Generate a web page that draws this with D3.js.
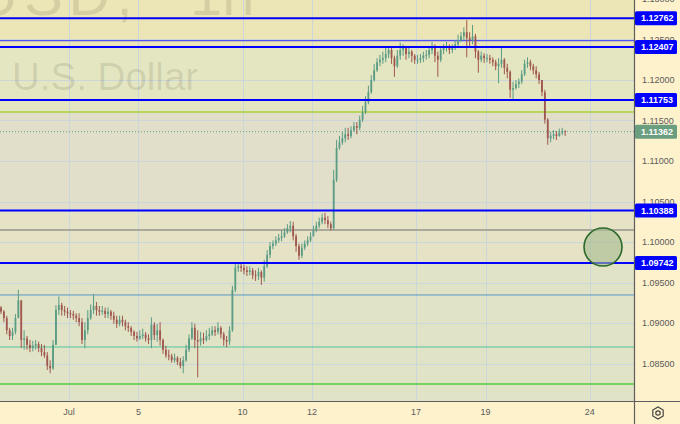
<!DOCTYPE html>
<html><head><meta charset="utf-8">
<script src="https://cdn.jsdelivr.net/npm/d3@7"></script>
<style>
html,body{margin:0;padding:0;background:#fef2cd;}
svg{display:block;font-family:"Liberation Sans",Arial,sans-serif;}
</style></head><body>
<svg id="chart" width="680" height="424"></svg>
<script>
// ---------- DATA (2-hour candles, EURUSD) ----------
const firstOpen = 1.0919;
const closes = [
 1.0914,1.0906,1.0891,1.0884,1.0889,1.0906,1.0928,1.0879,1.0881,1.0873,1.0869,1.0872,1.0874,1.0869,1.0864,1.0860,1.0847,1.0844,1.0873,1.0916,1.0922,1.0916,1.0914,1.0912,
 1.0911,1.0909,1.0906,1.0901,1.0879,1.0891,1.0906,1.0916,1.0921,1.0916,1.0914,1.0915,1.0911,1.0914,1.0909,1.0904,1.0899,1.0904,1.0901,1.0896,1.0894,1.0889,1.0884,1.0881,
 1.0884,1.0886,1.0881,1.0879,1.0898,1.0885,1.0891,1.0879,1.0867,1.0860,1.0859,1.0854,1.0857,1.0852,1.0847,1.0854,1.0867,1.0881,1.0894,1.0879,1.0877,1.0881,1.0879,1.0884,1.0886,1.0891,1.0889,1.0894,1.0886,1.0879,1.0877,1.0891,1.0941,1.0968,1.0970,1.0968,
 1.0965,1.0963,1.0965,1.0959,1.0958,1.0963,1.0956,1.0970,1.0984,1.0995,1.0998,1.1002,1.1005,1.1007,1.1012,1.1017,1.1020,1.1007,1.0995,1.0983,1.0993,1.0998,1.1002,1.1007,
 1.1015,1.1020,1.1025,1.1030,1.1027,1.1022,1.1017,1.1077,1.1116,1.1123,1.1128,1.1133,1.1131,1.1138,1.1143,1.1141,1.1151,1.1160,1.1173,1.1185,1.1200,1.1212,1.1222,1.1225,1.1227,1.1232,1.1237,1.1227,1.1217,1.1230,1.1237,1.1240,1.1232,1.1235,1.1230,1.1225,
 1.1225,1.1227,1.1230,1.1231,1.1237,1.1242,1.1230,1.1225,1.1237,1.1240,1.1242,1.1237,1.1240,1.1244,1.1249,1.1254,1.1259,1.1252,1.1249,1.1254,1.1235,1.1225,1.1230,1.1227,
 1.1227,1.1225,1.1222,1.1217,1.1220,1.1225,1.1215,1.1210,1.1188,1.1190,1.1195,1.1198,1.1207,1.1220,1.1222,1.1217,1.1212,1.1207,1.1200,1.1185,1.1151,1.1128,1.1131,1.1133,1.1131,1.1135,1.1137,1.11362
];
const highs = [
 1.0921,1.0916,1.0909,1.0894,1.0894,1.0911,1.0941,1.0928,1.0891,1.0884,1.0879,1.0878,1.0879,1.0877,1.0874,1.0873,1.0864,1.0854,1.0879,1.0922,1.0933,1.0925,1.0921,1.0919,
 1.0916,1.0915,1.0912,1.0912,1.0906,1.0901,1.0916,1.0923,1.0936,1.0926,1.0921,1.0921,1.0919,1.0919,1.0916,1.0914,1.0909,1.0909,1.0909,1.0904,1.0901,1.0896,1.0891,1.0889,
 1.0891,1.0893,1.0889,1.0886,1.0907,1.0901,1.0899,1.0901,1.0881,1.0872,1.0867,1.0862,1.0862,1.0859,1.0857,1.0859,1.0873,1.0886,1.0901,1.0899,1.0891,1.0889,1.0888,1.0891,1.0894,1.0896,1.0896,1.0901,1.0896,1.0889,1.0884,1.0896,1.0946,1.0975,1.0975,1.0974,
 1.0972,1.0970,1.0970,1.0968,1.0965,1.0968,1.0965,1.0978,1.0990,1.1000,1.1002,1.1007,1.1010,1.1014,1.1017,1.1022,1.1026,1.1025,1.1010,1.0998,1.0998,1.1002,1.1007,1.1012,
 1.1020,1.1025,1.1030,1.1035,1.1036,1.1032,1.1025,1.1089,1.1126,1.1131,1.1136,1.1141,1.1141,1.1143,1.1148,1.1148,1.1156,1.1168,1.1180,1.1193,1.1206,1.1220,1.1227,1.1231,1.1235,1.1240,1.1242,1.1240,1.1230,1.1237,1.1246,1.1244,1.1242,1.1242,1.1237,1.1232,
 1.1231,1.1232,1.1235,1.1237,1.1242,1.1247,1.1244,1.1235,1.1242,1.1244,1.1247,1.1244,1.1244,1.1249,1.1256,1.1259,1.1265,1.1274,1.1259,1.1268,1.1257,1.1237,1.1235,1.1233,
 1.1232,1.1231,1.1228,1.1225,1.1227,1.1241,1.1227,1.1220,1.1212,1.1198,1.1200,1.1202,1.1212,1.1225,1.1228,1.1225,1.1220,1.1217,1.1210,1.1200,1.1188,1.1153,1.1136,1.1138,1.1137,1.1140,1.1141,1.1138
];
const lows = [
 1.0911,1.0901,1.0886,1.0879,1.0879,1.0886,1.0906,1.0869,1.0867,1.0867,1.0864,1.0865,1.0867,1.0864,1.0859,1.0857,1.0842,1.0838,1.0842,1.0873,1.0910,1.0909,1.0909,1.0906,
 1.0906,1.0904,1.0901,1.0896,1.0874,1.0869,1.0886,1.0904,1.0911,1.0909,1.0909,1.0910,1.0906,1.0906,1.0904,1.0899,1.0894,1.0896,1.0896,1.0891,1.0889,1.0884,1.0879,1.0877,
 1.0879,1.0880,1.0877,1.0874,1.0869,1.0879,1.0877,1.0872,1.0862,1.0857,1.0854,1.0851,1.0851,1.0848,1.0844,1.0838,1.0852,1.0864,1.0879,1.0869,1.0833,1.0872,1.0874,1.0877,1.0879,1.0884,1.0884,1.0886,1.0881,1.0872,1.0870,1.0873,1.0889,1.0938,1.0963,1.0963,
 1.0960,1.0958,1.0959,1.0954,1.0952,1.0953,1.0947,1.0951,1.0968,1.0980,1.0991,1.0995,1.0999,1.1001,1.1005,1.1010,1.1012,1.1002,1.0988,1.0978,1.0980,1.0990,1.0995,1.1000,
 1.1007,1.1012,1.1017,1.1022,1.1022,1.1017,1.1014,1.1015,1.1074,1.1114,1.1120,1.1123,1.1126,1.1128,1.1136,1.1133,1.1138,1.1148,1.1158,1.1170,1.1183,1.1198,1.1210,1.1217,1.1220,1.1222,1.1227,1.1220,1.1204,1.1215,1.1225,1.1230,1.1225,1.1227,1.1222,1.1220,
 1.1220,1.1221,1.1222,1.1225,1.1227,1.1232,1.1222,1.1204,1.1222,1.1232,1.1235,1.1232,1.1233,1.1237,1.1242,1.1247,1.1249,1.1228,1.1242,1.1244,1.1227,1.1209,1.1222,1.1221,
 1.1222,1.1220,1.1217,1.1212,1.1196,1.1215,1.1207,1.1202,1.1178,1.1175,1.1188,1.1190,1.1195,1.1205,1.1215,1.1212,1.1207,1.1202,1.1195,1.1180,1.1146,1.1120,1.1123,1.1127,1.1126,1.1130,1.1132,1.1131
];
const dayTickSlots = [24, 48, 84, 108, 144, 168, 204];
const dayTickLabels = ["Jul", "5", "10", "12", "17", "19", "24"];
const priceTicks = [1.130, 1.125, 1.120, 1.115, 1.110, 1.105, 1.100, 1.095, 1.090, 1.085];
const keyLevels = [1.12762, 1.12407, 1.11753, 1.10388, 1.09742];
const minorLevels = [1.12485, 1.11605, 1.10148, 1.09346, 1.08704, 1.08247];
const zoneEdges = [1.13, 1.12407, 1.11605, 1.10388, 1.09742, 1.08];
const lastPrice = 1.11362;
const markerSlot = 208.6, markerPrice = 1.09938;
const watermarkTop = ["USD,", "1h"];
const watermarkSub = "U.S. Dollar";

// ---------- STYLE ----------
const zoneColors = ["#ece6b6", "#e4e6c1", "#e1dfca", "#e6e2c6", "#e0e3c6"];
const minorStyles = [
  {c:"#2a2aff", w:1}, {c:"#a9d13c", w:1.5}, {c:"#aaa89a", w:2},
  {c:"#5b98c5", w:1}, {c:"#52c59b", w:1}, {c:"#4fd03e", w:1.5}];
const upColor = "#5a9c84", downColor = "#a0574f";

// ---------- LAYOUT ----------
const W = 680, H = 424, PW = 634, PH = 401;
const svg = d3.select("#chart");
const x = d3.scaleLinear().domain([0, 204]).range([-0.46, 589.7]);
const y = d3.scaleLinear().domain([1.08, 1.13]).range([404, -1]);

svg.append("defs").append("clipPath").attr("id","plotclip")
  .append("rect").attr("x",0).attr("y",0).attr("width",PW).attr("height",PH);
const plot = svg.append("g").attr("clip-path","url(#plotclip)");

// zones
const zones = d3.pairs(zoneEdges);
plot.selectAll("rect.zone").data(zones).join("rect").attr("class","zone")
  .attr("x",0).attr("width",PW)
  .attr("y", d => y(d[0]) - (d[0] === zoneEdges[0] ? 10 : 0))
  .attr("height", d => y(d[1]) - y(d[0]) + (d[0] === zoneEdges[0] ? 10 : 0) + (d[1] === zoneEdges[zoneEdges.length-1] ? 10 : 0))
  .attr("fill", (d,i) => zoneColors[i]);

// grid
plot.selectAll("line.hg").data(priceTicks).join("line")
  .attr("x1",0).attr("x2",PW).attr("y1",d=>Math.round(y(d))+0.5).attr("y2",d=>Math.round(y(d))+0.5)
  .attr("stroke","#cbd6da").attr("stroke-width",1);
plot.selectAll("line.vg").data(dayTickSlots).join("line")
  .attr("y1",0).attr("y2",PH).attr("x1",d=>Math.round(x(d))+0.5).attr("x2",d=>Math.round(x(d))+0.5)
  .attr("stroke","#cbd6da").attr("stroke-width",1);

// watermark
plot.append("text").attr("x",-24).attr("y",15).attr("font-size",58)
  .style("letter-spacing","6px").attr("fill","#000").attr("fill-opacity",0.1).text(watermarkTop[0]);
plot.append("text").attr("x",190).attr("y",15).attr("font-size",58)
  .attr("fill","#000").attr("fill-opacity",0.1).text(watermarkTop[1]);
plot.append("text").attr("x",12).attr("y",90).attr("font-size",38.5)
  .attr("fill","#000").attr("fill-opacity",0.1).text(watermarkSub);

// minor levels
plot.selectAll("line.minor").data(minorLevels).join("line")
  .attr("x1",0).attr("x2",PW).attr("y1",d=>y(d)).attr("y2",d=>y(d))
  .attr("stroke",(d,i)=>minorStyles[i].c).attr("stroke-width",(d,i)=>minorStyles[i].w);

// candles
const candles = closes.map((c,i) => {
  const o = i === 0 ? firstOpen : closes[i-1];
  return {i, o, c, h: Math.max(highs[i], o, c), l: Math.min(lows[i], o, c)};
});
const cg = plot.append("g");
const cs = cg.selectAll("g").data(candles).join("g");
cs.append("line")
  .attr("x1", d => x(d.i + 0.5)).attr("x2", d => x(d.i + 0.5))
  .attr("y1", d => y(d.h)).attr("y2", d => y(d.l))
  .attr("stroke", d => d.c >= d.o ? upColor : downColor).attr("stroke-width", 1);
cs.append("rect")
  .attr("x", d => x(d.i + 0.5) - 0.9).attr("width", 1.8)
  .attr("y", d => y(Math.max(d.o, d.c)))
  .attr("height", d => Math.max(1, Math.abs(y(d.o) - y(d.c))))
  .attr("fill", d => d.c >= d.o ? upColor : downColor);

// key levels
plot.selectAll("line.key").data(keyLevels).join("line")
  .attr("x1",0).attr("x2",PW).attr("y1",d=>y(d)).attr("y2",d=>y(d))
  .attr("stroke","#0000ff").attr("stroke-width",2);

// last price dotted line
plot.append("line").attr("x1",0).attr("x2",PW).attr("y1",y(lastPrice)).attr("y2",y(lastPrice))
  .attr("stroke","#5fa58b").attr("stroke-width",1).attr("stroke-dasharray","1,2");

// marker circle
plot.append("circle").attr("cx",x(markerSlot)).attr("cy",y(markerPrice)).attr("r",19)
  .attr("fill","#a4bd8f").attr("fill-opacity",0.6).attr("stroke","#2b6a2a").attr("stroke-width",1.6);

// axis areas
svg.append("rect").attr("x",PW).attr("y",0).attr("width",W-PW).attr("height",H).attr("fill","#fef2cd");
svg.append("rect").attr("x",0).attr("y",PH).attr("width",W).attr("height",H-PH).attr("fill","#fef2cd");
svg.append("line").attr("x1",PW+0.5).attr("x2",PW+0.5).attr("y1",0).attr("y2",H).attr("stroke","#5e5e5e").attr("stroke-width",1.2);
svg.append("line").attr("x1",0).attr("x2",W).attr("y1",PH+0.5).attr("y2",PH+0.5).attr("stroke","#5e5e5e").attr("stroke-width",1.2);

// right axis tick labels
const fmt = d3.format(".5f");
svg.selectAll("text.pt").data(priceTicks).join("text")
  .attr("x",642).attr("y",d=>y(d)).attr("dy","0.35em")
  .attr("font-size",9).attr("fill","#5a5a5a").text(d=>fmt(d));

// bottom axis labels
svg.selectAll("text.dt").data(dayTickSlots).join("text")
  .attr("x",d=>x(d)).attr("y",415).attr("text-anchor","middle")
  .attr("font-size",9).attr("fill","#5a5a5a").text((d,i)=>dayTickLabels[i]);

// key level labels
const kl = svg.selectAll("g.kl").data(keyLevels).join("g");
kl.append("rect").attr("x",635).attr("width",42).attr("y",d=>y(d)-7).attr("height",14).attr("rx",1.5).attr("fill","#0000ff");
kl.append("text").attr("x",641).attr("y",d=>y(d)).attr("dy","0.35em").attr("font-size",9)
  .attr("font-weight","bold").attr("fill","#fff").text(d=>fmt(d));

// last price label
svg.append("rect").attr("x",635).attr("width",42).attr("y",y(lastPrice)-7).attr("height",14).attr("rx",1.5).attr("fill","#6a9e7e");
svg.append("text").attr("x",641).attr("y",y(lastPrice)).attr("dy","0.35em").attr("font-size",9)
  .attr("font-weight","bold").attr("fill","#fff").text(fmt(lastPrice));

// settings icon
const gx = 658, gy = 413, gr = 6;
const hex = d3.range(6).map(k => [gx + gr*Math.cos(Math.PI/3*k + Math.PI/6), gy + gr*Math.sin(Math.PI/3*k + Math.PI/6)]);
svg.append("path").attr("d", d3.line()(hex) + "Z").attr("fill","none").attr("stroke","#444").attr("stroke-width",1.2);
svg.append("circle").attr("cx",gx).attr("cy",gy).attr("r",2.2).attr("fill","none").attr("stroke","#444").attr("stroke-width",1.2);
</script>
</body></html>
